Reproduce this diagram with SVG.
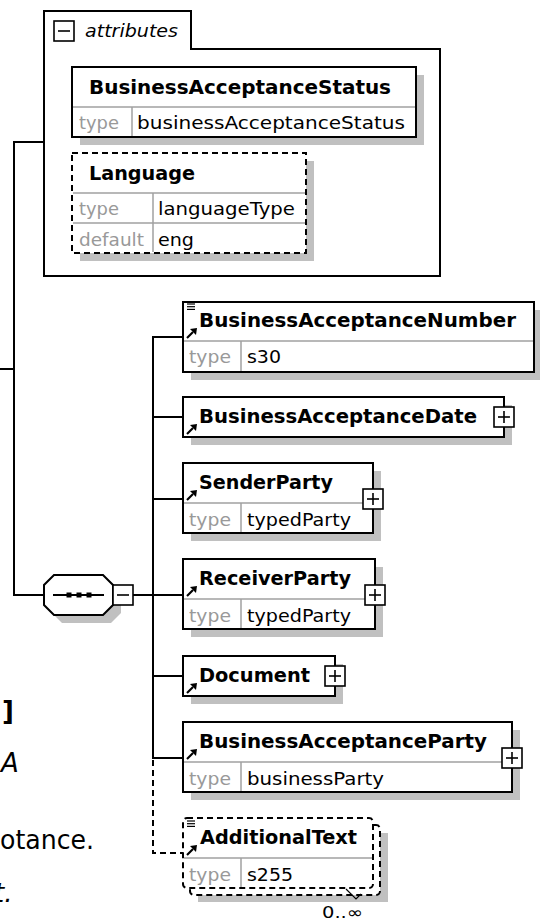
<svg xmlns="http://www.w3.org/2000/svg" width="540" height="921" viewBox="0 0 540 921">
<defs>
<style>
.bg{fill:#fff}
.sh{fill:#c0c0c0}
.box{fill:#fff;stroke:#000;stroke-width:2}
.dbox{fill:#fff;stroke:#000;stroke-width:2;stroke-dasharray:6,4}
.div{stroke:#a0a0a0;stroke-width:1.5;fill:none}
.ln{stroke:#000;stroke-width:2;fill:none}
.dln{stroke:#000;stroke-width:2;fill:none;stroke-dasharray:6,4}
.name{font-family:"DejaVu Sans",Verdana,sans-serif;font-weight:bold;font-size:19px;fill:#000}
.lbl{font-family:"DejaVu Sans",Verdana,sans-serif;font-size:18px;fill:#999}
.val{font-family:"DejaVu Sans",Verdana,sans-serif;font-size:18px;fill:#000}
.it{font-family:"DejaVu Sans",Verdana,sans-serif;font-style:italic;font-size:18px;fill:#000}
.frag{font-family:"DejaVu Sans",Verdana,sans-serif;font-size:26px;fill:#000}
.tg{fill:#fff;stroke:#000;stroke-width:1.6}
</style>
<g id="refarrow">
<line x1="0" y1="0" x2="6" y2="-6" stroke="#000" stroke-width="2.2"/>
<polygon points="10,-10 3,-9 9,-3" fill="#000"/>
</g>
<g id="simple">
<line x1="0" y1="0" x2="8" y2="0" stroke="#000" stroke-width="1.2"/>
<line x1="0" y1="2.7" x2="8" y2="2.7" stroke="#000" stroke-width="1.2"/>
<line x1="0" y1="5.4" x2="8" y2="5.4" stroke="#000" stroke-width="1.2"/>
</g>
<g id="plus">
<rect x="-10" y="-10" width="20" height="20" class="tg"/>
<line x1="-6" y1="0" x2="6" y2="0" stroke="#000" stroke-width="1.6"/>
<line x1="0" y1="-6" x2="0" y2="6" stroke="#000" stroke-width="1.6"/>
</g>
</defs>
<rect width="540" height="921" class="bg"/>

<g id="connectors">
<line x1="14" y1="142" x2="14" y2="595" class="ln"/>
<line x1="13" y1="142" x2="44" y2="142" class="ln"/>
<line x1="0" y1="369" x2="14" y2="369" class="ln"/>
<line x1="13" y1="595" x2="44" y2="595" class="ln"/>
<line x1="133" y1="595" x2="153" y2="595" class="ln"/>
<line x1="153" y1="337" x2="153" y2="758" class="ln"/>
<path d="M153 760 V853 H183" class="dln"/>
<line x1="152" y1="337" x2="183" y2="337" class="ln"/>
<line x1="153" y1="417" x2="183" y2="417" class="ln"/>
<line x1="153" y1="499" x2="183" y2="499" class="ln"/>
<line x1="153" y1="595" x2="183" y2="595" class="ln"/>
<line x1="153" y1="676" x2="183" y2="676" class="ln"/>
<line x1="152" y1="758" x2="183" y2="758" class="ln"/>
</g>

<g id="attributes">
<path d="M44 276 V11 H191 V49 H440 V276 Z" fill="#fff" stroke="#000" stroke-width="2"/>
<rect x="54" y="21" width="20" height="20" class="tg"/>
<line x1="58" y1="31" x2="70" y2="31" stroke="#000" stroke-width="1.6"/>
<text x="85" y="37" class="it" textLength="93" lengthAdjust="spacingAndGlyphs">attributes</text>
</g>

<g id="BusinessAcceptanceStatus">
<rect x="80" y="75" width="344" height="70" class="sh"/>
<rect x="72" y="67" width="344" height="70" class="box"/>
<line x1="73" y1="107" x2="415" y2="107" class="div"/>
<line x1="132" y1="107" x2="132" y2="136" class="div"/>
<text x="89" y="94" class="name" textLength="302" lengthAdjust="spacingAndGlyphs">BusinessAcceptanceStatus</text>
<text x="79" y="129" class="lbl" textLength="40" lengthAdjust="spacingAndGlyphs">type</text>
<text x="137" y="129" class="val" textLength="268" lengthAdjust="spacingAndGlyphs">businessAcceptanceStatus</text>
</g>

<g id="Language">
<rect x="80" y="161" width="234" height="100" class="sh"/>
<rect x="72" y="153" width="234" height="100" class="dbox"/>
<line x1="73" y1="193" x2="305" y2="193" class="div"/>
<line x1="73" y1="223" x2="305" y2="223" class="div"/>
<line x1="153" y1="193" x2="153" y2="252" class="div"/>
<text x="89" y="180" class="name" textLength="106" lengthAdjust="spacingAndGlyphs">Language</text>
<text x="79" y="215" class="lbl" textLength="40" lengthAdjust="spacingAndGlyphs">type</text>
<text x="158" y="215" class="val" textLength="137" lengthAdjust="spacingAndGlyphs">languageType</text>
<text x="79" y="246" class="lbl" textLength="65" lengthAdjust="spacingAndGlyphs">default</text>
<text x="158" y="246" class="val" textLength="36" lengthAdjust="spacingAndGlyphs">eng</text>
</g>

<g id="sequence">
<polygon points="62,583 111,583 121,593 121,613 111,623 62,623 52,613 52,593" class="sh"/>
<polygon points="54,575 103,575 113,585 113,605 103,615 54,615 44,605 44,585" fill="#fff" stroke="#000" stroke-width="2"/>
<line x1="53" y1="595" x2="104" y2="595" stroke="#000" stroke-width="2"/>
<rect x="66.5" y="592.5" width="5" height="5" fill="#000"/>
<rect x="76.5" y="592.5" width="5" height="5" fill="#000"/>
<rect x="86.5" y="592.5" width="5" height="5" fill="#000"/>
<rect x="113" y="585" width="20" height="20" class="tg"/>
<line x1="117" y1="595" x2="129" y2="595" stroke="#000" stroke-width="1.6"/>
</g>

<g id="BusinessAcceptanceNumber">
<rect x="191" y="310" width="351" height="70" class="sh"/>
<rect x="183" y="302" width="351" height="70" class="box"/>
<line x1="184" y1="341" x2="533" y2="341" class="div"/>
<line x1="241" y1="341" x2="241" y2="371" class="div"/>
<use href="#simple" x="187" y="304"/>
<use href="#refarrow" x="187" y="338"/>
<text x="199" y="327" class="name" textLength="317" lengthAdjust="spacingAndGlyphs">BusinessAcceptanceNumber</text>
<text x="189" y="363" class="lbl" textLength="42" lengthAdjust="spacingAndGlyphs">type</text>
<text x="247" y="363" class="val" textLength="34" lengthAdjust="spacingAndGlyphs">s30</text>
</g>

<g id="BusinessAcceptanceDate">
<rect x="191" y="405" width="321" height="40" class="sh"/>
<rect x="183" y="397" width="321" height="40" class="box"/>
<use href="#refarrow" x="187" y="434"/>
<text x="199" y="423" class="name" textLength="278" lengthAdjust="spacingAndGlyphs">BusinessAcceptanceDate</text>
<use href="#plus" x="504" y="417"/>
</g>

<g id="SenderParty">
<rect x="191" y="471" width="190" height="70" class="sh"/>
<rect x="183" y="463" width="190" height="70" class="box"/>
<line x1="184" y1="503" x2="372" y2="503" class="div"/>
<line x1="241" y1="503" x2="241" y2="532" class="div"/>
<use href="#refarrow" x="187" y="500"/>
<text x="199" y="489" class="name" textLength="134" lengthAdjust="spacingAndGlyphs">SenderParty</text>
<text x="189" y="526" class="lbl" textLength="42" lengthAdjust="spacingAndGlyphs">type</text>
<text x="247" y="526" class="val" textLength="104" lengthAdjust="spacingAndGlyphs">typedParty</text>
<use href="#plus" x="373" y="499"/>
</g>

<g id="ReceiverParty">
<rect x="191" y="567" width="192" height="70" class="sh"/>
<rect x="183" y="559" width="192" height="70" class="box"/>
<line x1="184" y1="599" x2="374" y2="599" class="div"/>
<line x1="241" y1="599" x2="241" y2="628" class="div"/>
<use href="#refarrow" x="187" y="596"/>
<text x="199" y="585" class="name" textLength="152" lengthAdjust="spacingAndGlyphs">ReceiverParty</text>
<text x="189" y="622" class="lbl" textLength="42" lengthAdjust="spacingAndGlyphs">type</text>
<text x="247" y="622" class="val" textLength="104" lengthAdjust="spacingAndGlyphs">typedParty</text>
<use href="#plus" x="375" y="595"/>
</g>

<g id="Document">
<rect x="191" y="664" width="152" height="40" class="sh"/>
<rect x="183" y="656" width="152" height="40" class="box"/>
<use href="#refarrow" x="187" y="693"/>
<text x="199" y="682" class="name" textLength="111" lengthAdjust="spacingAndGlyphs">Document</text>
<use href="#plus" x="335" y="676"/>
</g>

<g id="BusinessAcceptanceParty">
<rect x="191" y="730" width="329" height="70" class="sh"/>
<rect x="183" y="722" width="329" height="70" class="box"/>
<line x1="184" y1="762" x2="511" y2="762" class="div"/>
<line x1="241" y1="762" x2="241" y2="791" class="div"/>
<use href="#refarrow" x="187" y="759"/>
<text x="199" y="748" class="name" textLength="288" lengthAdjust="spacingAndGlyphs">BusinessAcceptanceParty</text>
<text x="189" y="785" class="lbl" textLength="42" lengthAdjust="spacingAndGlyphs">type</text>
<text x="247" y="785" class="val" textLength="137" lengthAdjust="spacingAndGlyphs">businessParty</text>
<use href="#plus" x="512" y="758"/>
</g>

<g id="AdditionalText">
<rect x="198" y="833" width="190" height="69" class="sh"/>
<rect x="190" y="825" width="190" height="70" rx="4" class="dbox"/>
<rect x="183" y="818" width="190" height="70" rx="4" class="dbox"/>
<line x1="184" y1="858" x2="372" y2="858" class="div"/>
<line x1="241" y1="858" x2="241" y2="887" class="div"/>
<use href="#simple" x="187" y="821"/>
<use href="#refarrow" x="187" y="855"/>
<text x="200" y="844" class="name" textLength="157" lengthAdjust="spacingAndGlyphs">AdditionalText</text>
<text x="189" y="881" class="lbl" textLength="42" lengthAdjust="spacingAndGlyphs">type</text>
<text x="247" y="881" class="val" textLength="46" lengthAdjust="spacingAndGlyphs">s255</text>
<path d="M346 889 L356 899 L361 894" fill="none" stroke="#000" stroke-width="1.2"/>
<text x="322" y="918" font-family="DejaVu Sans, sans-serif" font-size="16" fill="#000" textLength="41" lengthAdjust="spacingAndGlyphs">0..∞</text>
</g>

<g id="fragments">
<text x="14" y="720" text-anchor="end" class="frag" font-size="29" font-weight="bold">]</text>
<text x="1" y="772" class="frag" font-style="italic">A</text>
<text x="0" y="849" class="frag" textLength="94" lengthAdjust="spacingAndGlyphs">otance.</text>
<text x="-6" y="902" class="frag" font-style="italic">t.</text>
</g>
</svg>
